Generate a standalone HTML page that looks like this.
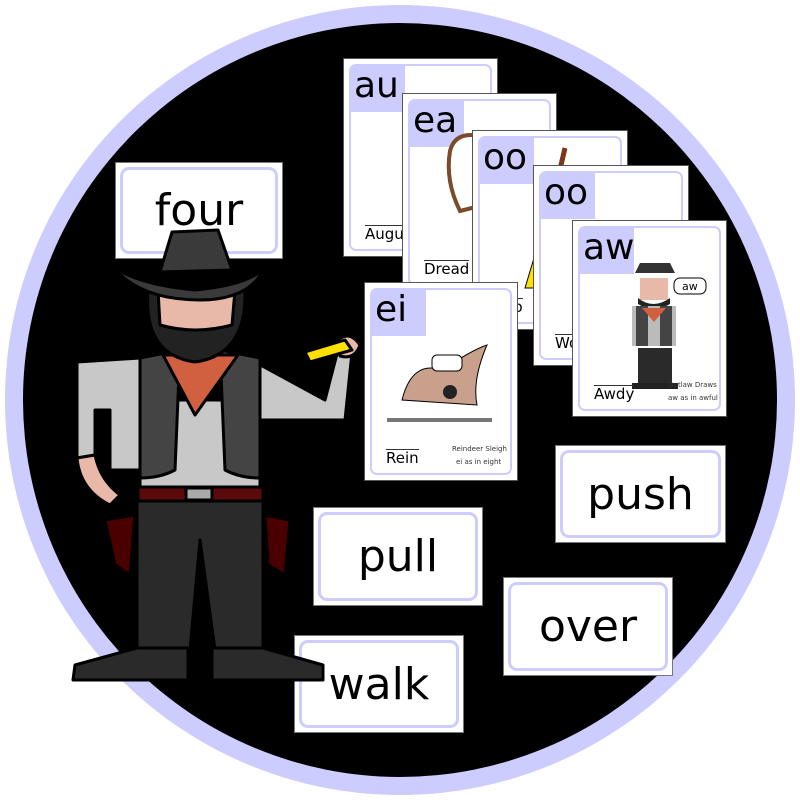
<!DOCTYPE html>
<html><head><style>
body{margin:0;width:800px;height:800px;background:#fff;position:relative;overflow:hidden;font-family:"DejaVu Sans","Liberation Sans",sans-serif}
.ring{position:absolute;left:5px;top:5px;width:790px;height:790px;border-radius:50%;background:#ccccff}
.blk{position:absolute;left:23px;top:23px;width:754px;height:754px;border-radius:50%;background:#000}
.w{position:absolute;background:#fff;border:1px solid #777;box-sizing:border-box}
.w .in{position:absolute;left:4px;top:4px;right:4px;bottom:4px;border:3px solid #ccccff;border-radius:9px;display:flex;align-items:center;justify-content:center;font-size:44px;color:#000}
.c{position:absolute;background:#fff;border:1px solid #555;box-sizing:border-box}
.c .in{position:absolute;left:5px;top:5px;right:5px;bottom:5px;border:2px solid #ccccff;border-radius:7px;overflow:hidden}
.c .lab{position:absolute;left:0;top:0;width:54px;height:46px;background:#ccccff;font-size:36px;line-height:40px;padding-left:3px;box-sizing:border-box}
.c .wd{position:absolute;left:14px;bottom:6px;font-family:"DejaVu Sans",sans-serif;font-size:15px;border-top:1px solid #333;line-height:17px}
.sm{position:absolute;font-size:7px;color:#333}
</style></head><body>
<div class="ring"></div><div class="blk"></div>

<div class="c" style="left:343px;top:58px;width:155px;height:199px"><div class="in"><div class="lab">au</div><div class="wd">August</div></div></div>
<div class="c" style="left:402px;top:93px;width:155px;height:199px"><div class="in"><div class="lab">ea</div>
<svg style="position:absolute;left:0;top:0" width="150" height="190"><path d="M40 50 Q45 30 70 35 L70 105 L50 110 Q35 80 40 50Z" fill="#fff" stroke="#7a4a2a" stroke-width="4"/></svg>
<div class="wd">Dread</div></div></div>
<div class="c" style="left:472px;top:130px;width:156px;height:200px"><div class="in"><div class="lab">oo</div>
<svg style="position:absolute;left:0;top:0" width="150" height="190"><path d="M85 10 L78 40" stroke="#7a3a1a" stroke-width="5"/><path d="M60 100 L45 150 L70 150Z" fill="#ffe000" stroke="#000"/></svg>
<div class="wd">Boo</div></div></div>
<div class="c" style="left:533px;top:165px;width:156px;height:201px"><div class="in"><div class="lab">oo</div><div class="wd">Wo</div></div></div>
<div class="c" style="left:572px;top:220px;width:155px;height:197px"><div class="in"><div class="lab">aw</div>
<svg style="position:absolute;left:0;top:0" width="145" height="190"><path d="M55 45 h40 l-5 -10 h-30z" fill="#333"/><rect x="60" y="50" width="28" height="22" fill="#e8b8a8"/><path d="M58 70 q15 12 32 0 v6 q-16 10 -32 0z" fill="#222"/><rect x="52" y="78" width="44" height="40" fill="#bbb"/><rect x="56" y="78" width="12" height="40" fill="#444"/><rect x="80" y="78" width="12" height="40" fill="#444"/><path d="M62 80 l12 14 l12 -14z" fill="#d06040"/><rect x="58" y="120" width="34" height="38" fill="#2a2a2a"/><rect x="52" y="155" width="46" height="6" fill="#222"/><rect x="94" y="50" width="32" height="16" rx="6" fill="#fff" stroke="#000"/><text x="102" y="62" font-size="11">aw</text></svg>
<div class="wd">Awdy</div><div class="sm" style="left:88px;bottom:20px">Outlaw Draws</div><div class="sm" style="left:88px;bottom:7px">aw as in awful</div></div></div>
<div class="c" style="left:364px;top:282px;width:154px;height:199px"><div class="in"><div class="lab">ei</div>
<svg style="position:absolute;left:0;top:0" width="145" height="190"><path d="M30 110 Q40 70 70 80 Q100 60 115 55 Q100 90 105 115 Z" fill="#c9a08c" stroke="#000"/><path d="M15 130 H120" stroke="#777" stroke-width="4"/><rect x="60" y="65" width="30" height="16" rx="5" fill="#fff" stroke="#000"/><circle cx="78" cy="102" r="7" fill="#222"/></svg>
<div class="wd">Rein</div><div class="sm" style="left:80px;bottom:20px">Reindeer Sleigh</div><div class="sm" style="left:84px;bottom:7px">ei as in eight</div></div></div>

<div class="w" style="left:115px;top:162px;width:168px;height:97px"><div class="in">four</div></div>
<div class="w" style="left:555px;top:445px;width:171px;height:98px"><div class="in">push</div></div>
<div class="w" style="left:313px;top:507px;width:170px;height:99px"><div class="in">pull</div></div>
<div class="w" style="left:503px;top:577px;width:170px;height:99px"><div class="in">over</div></div>
<div class="w" style="left:294px;top:635px;width:170px;height:98px"><div class="in">walk</div></div>

<svg style="position:absolute;left:0;top:0" width="800" height="800">
<g stroke="#000" stroke-width="3" stroke-linejoin="round">
<path d="M77 362 L140 358 L140 470 L110 470 L110 410 L95 410 L95 455 L77 458Z" fill="#c8c8c8"/>
<path d="M77 458 L95 455 Q100 480 120 495 L110 505 Q80 490 77 458Z" fill="#e8b8a8"/>
<path d="M255 362 L325 400 L338 350 L352 352 L345 420 L255 420Z" fill="#c8c8c8"/>
<path d="M338 340 Q350 330 360 345 Q355 360 340 356Z" fill="#e8b8a8"/>
<path d="M305 352 L345 340 L352 350 L310 362Z" fill="#ffe000"/>
<rect x="140" y="400" width="120" height="90" fill="#c8c8c8"/>
<path d="M140 358 L180 350 L175 470 Q160 478 140 478Z" fill="#444"/>
<path d="M260 358 L220 350 L225 470 Q240 478 260 478Z" fill="#444"/>
<path d="M163 355 L238 355 L195 415Z" fill="#d06040"/>
<path d="M137 492 L263 492 L263 650 L215 650 L200 540 L190 650 L137 650Z" fill="#2a2a2a"/>
<rect x="138" y="487" width="125" height="14" fill="#5a0a0a"/>
<rect x="186" y="488" width="26" height="12" fill="#aaa"/>
<path d="M105 520 L135 515 L130 575 L115 565Z" fill="#4a0000"/>
<path d="M265 515 L290 520 L285 575 L268 565Z" fill="#4a0000"/>
<path d="M73 680 L75 665 L137 648 L188 648 L188 680Z" fill="#2a2a2a"/>
<path d="M212 680 L212 648 L263 648 L323 665 L323 680Z" fill="#2a2a2a"/>
<path d="M148 290 Q143 355 195 362 Q247 355 245 290Z" fill="#222"/>
<path d="M158 290 L235 290 L232 325 Q195 335 160 325Z" fill="#e8b8a8"/>
<path d="M172 232 L218 230 L232 270 L160 272Z" fill="#3a3a3a"/>
<path d="M113 267 Q140 285 195 290 Q250 285 265 267 Q250 300 200 300 Q140 300 113 267Z" fill="#3a3a3a"/>
</g>
</svg>
</body></html>
